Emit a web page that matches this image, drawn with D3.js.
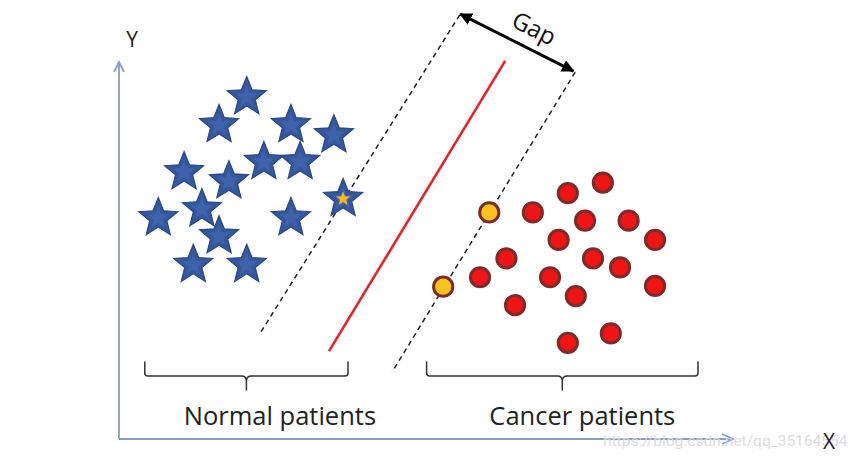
<!DOCTYPE html>
<html>
<head>
<meta charset="utf-8">
<script src="https://cdn.jsdelivr.net/npm/d3@7"></script>
<style>
  html, body { margin: 0; padding: 0; background: #ffffff; }
  svg { display: block; }
</style>
</head>
<body>
<svg id="chart" width="868" height="473"></svg>
<script>
// ---------------- DATA (feature space, 0-100 on both axes) ----------------
const normalX = [20.8, 16.3, 28.0, 35.0, 10.6, 17.9, 23.6, 29.5, 36.5, 6.4, 13.5, 28.0, 16.3, 12.1, 20.8];
const normalY = [90.7, 83.3, 83.3, 80.6, 70.8, 68.4, 73.5, 73.5, 63.7, 58.6, 61.0, 58.6, 53.8, 46.2, 46.2];
const normalSupport = [false, false, false, false, false, false, false, false, true, false, false, false, false, false, false];

const cancerX = [60.3, 52.8, 78.8, 73.1, 67.4, 75.9, 83.0, 71.6, 87.3, 63.1, 77.2, 81.6, 58.8, 70.2, 87.3, 74.4, 64.5, 80.1, 73.1];
const cancerY = [60.1, 40.4, 68.0, 65.2, 60.1, 57.9, 57.9, 52.8, 52.8, 47.9, 47.9, 45.5, 42.9, 42.9, 40.6, 37.9, 35.5, 28.0, 25.5];
const cancerSupport = [true, true, false, false, false, false, false, false, false, false, false, false, false, false, false, false, false, false, false];

// separating hyperplane and margins: [x1, y1, x2, y2]
const hyperplane = [62.9, 100.3, 34.2, 23.3];
const marginLeft = [55.5, 112.5, 23.0, 28.1];
const marginRight = [74.3, 97.3, 44.5, 17.8];
const gapArrow = [55.6, 112.7, 74.0, 97.6];

const groupLabels = ["Normal patients", "Cancer patients"];
const groupRanges = [[4.2, 37.3], [50.1, 94.3]];
const axisLabels = ["X", "Y"];
const gapLabel = "Gap";
const watermark = "https://blog.csdn.net/qq_35164554";

// ---------------- LAYOUT ----------------
const svg = d3.select("#chart");
const x = d3.scaleLinear().domain([0, 100]).range([119, 733]);
const y = d3.scaleLinear().domain([0, 100]).range([439, 62]);

const defs = svg.append("defs");
defs.append("marker").attr("id", "ah").attr("viewBox", "0 0 10 10")
  .attr("refX", 9).attr("refY", 5).attr("markerWidth", 4.2).attr("markerHeight", 4.2)
  .attr("orient", "auto-start-reverse").attr("markerUnits", "strokeWidth")
  .append("path").attr("d", "M0,0 L10,5 L0,10 z").attr("fill", "#000");

// axes (open chevron arrows)
const axisColor = "#869fc6";
const gAxis = svg.append("g").attr("stroke", axisColor).attr("stroke-width", 1.8).attr("fill", "none");
gAxis.append("line").attr("x1", x(0)).attr("y1", y(0)).attr("x2", x(0)).attr("y2", y(100));
gAxis.append("line").attr("x1", x(0)).attr("y1", y(0)).attr("x2", x(100)).attr("y2", y(0));
gAxis.append("path").attr("d", `M${x(0) - 5},${y(100) + 10} L${x(0)},${y(100)} L${x(0) + 5},${y(100) + 10}`);
gAxis.append("path").attr("d", `M${x(100) - 11},${y(0) - 5} L${x(100)},${y(0)} L${x(100) - 11},${y(0) + 5}`);

// watermark
svg.append("text").attr("x", 603).attr("y", 446).attr("font-family", "Roboto, 'DejaVu Sans', sans-serif")
  .attr("font-size", 15.5).attr("fill", "#dadada").attr("opacity", 0.9).text(watermark);

svg.append("text").attr("x", 132).attr("y", 47).attr("text-anchor", "middle")
  .attr("font-family", "'Open Sans', sans-serif").attr("font-size", 21).attr("fill", "#222").text(axisLabels[1]);
svg.append("text").attr("x", 829).attr("y", 449).attr("text-anchor", "middle")
  .attr("font-family", "'Open Sans', sans-serif").attr("font-size", 21).attr("fill", "#222").text(axisLabels[0]);

// margins (dashed) and hyperplane
[marginLeft, marginRight].forEach(m => {
  svg.append("line").attr("x1", x(m[0])).attr("y1", y(m[1])).attr("x2", x(m[2])).attr("y2", y(m[3]))
    .attr("stroke", "#222").attr("stroke-width", 1.5).attr("stroke-dasharray", "5,4");
});
svg.append("line").attr("x1", x(hyperplane[0])).attr("y1", y(hyperplane[1]))
  .attr("x2", x(hyperplane[2])).attr("y2", y(hyperplane[3]))
  .attr("stroke", "#e8222a").attr("stroke-width", 2.6);

// gap arrow
svg.append("line").attr("x1", x(gapArrow[0])).attr("y1", y(gapArrow[1]))
  .attr("x2", x(gapArrow[2])).attr("y2", y(gapArrow[3]))
  .attr("stroke", "#000").attr("stroke-width", 3)
  .attr("marker-start", "url(#ah)").attr("marker-end", "url(#ah)");
const gx = (x(gapArrow[0]) + x(gapArrow[2])) / 2, gy = (y(gapArrow[1]) + y(gapArrow[3])) / 2;
const ang = Math.atan2(y(gapArrow[3]) - y(gapArrow[1]), x(gapArrow[2]) - x(gapArrow[0])) * 180 / Math.PI;
svg.append("text").attr("transform", `translate(${gx},${gy}) rotate(${ang}) translate(9,-12)`)
  .attr("text-anchor", "middle").attr("font-family", "'Open Sans', sans-serif")
  .attr("font-size", 24).attr("fill", "#111").text(gapLabel);

// stars (normal patients) - 5-point star with a chubbier inner radius
const R = 20.5;
function starPts(ro, ri) {
  const pts = [];
  for (let k = 0; k < 10; k++) pts.push([k * Math.PI / 5, k % 2 === 0 ? ro : ri]);
  return pts;
}
const radial = d3.lineRadial().curve(d3.curveLinearClosed);
const starPath = radial(starPts(R, R * 0.44));
const innerPath = radial(starPts(R * 0.55, R * 0.55 * 0.44));
const yellowPath = radial(starPts(R * 0.36, R * 0.36 * 0.44));
const stars = svg.append("g").selectAll("g").data(normalX.map((v, i) => ({x: v, y: normalY[i], s: normalSupport[i]})))
  .join("g").attr("transform", d => `translate(${x(d.x)},${y(d.y)})`);
stars.append("path").attr("d", starPath).attr("fill", "#34579e").attr("stroke", "#2a4784").attr("stroke-width", 1.2).attr("stroke-linejoin", "miter");
stars.append("path").attr("d", innerPath).attr("fill", "#4a70b6").attr("opacity", 0.5);
stars.filter(d => d.s).append("path").attr("d", yellowPath).attr("fill", "#f7bb12");

// circles (cancer patients)
svg.append("g").selectAll("circle").data(cancerX.map((v, i) => ({x: v, y: cancerY[i], s: cancerSupport[i]})))
  .join("circle").attr("cx", d => x(d.x)).attr("cy", d => y(d.y)).attr("r", 9.6)
  .attr("fill", d => d.s ? "#fcc21b" : "#f01414").attr("stroke", "#7b2c2a").attr("stroke-width", 3);

// braces + labels
const braceTop = 361.5, braceH = 376, braceBottom = 390.5;
groupRanges.forEach((r, i) => {
  const x0 = x(r[0]), x1 = x(r[1]), m = (x0 + x1) / 2;
  const p = `M${x0},${braceTop} L${x0},${braceH - 3} Q${x0},${braceH} ${x0 + 3},${braceH} L${m - 5},${braceH} Q${m},${braceH} ${m},${braceH + 5} L${m},${braceBottom} M${m},${braceH + 5} Q${m},${braceH} ${m + 5},${braceH} L${x1 - 3},${braceH} Q${x1},${braceH} ${x1},${braceH - 3} L${x1},${braceTop}`;
  svg.append("path").attr("d", p).attr("fill", "none").attr("stroke", "#333").attr("stroke-width", 1.5);
  svg.append("text").attr("x", m + (i === 0 ? 33.5 : 20)).attr("y", 425).attr("text-anchor", "middle")
    .attr("font-family", "'Open Sans', sans-serif").attr("font-size", 25.5).attr("fill", "#222").text(groupLabels[i]);
});
</script>
</body>
</html>
